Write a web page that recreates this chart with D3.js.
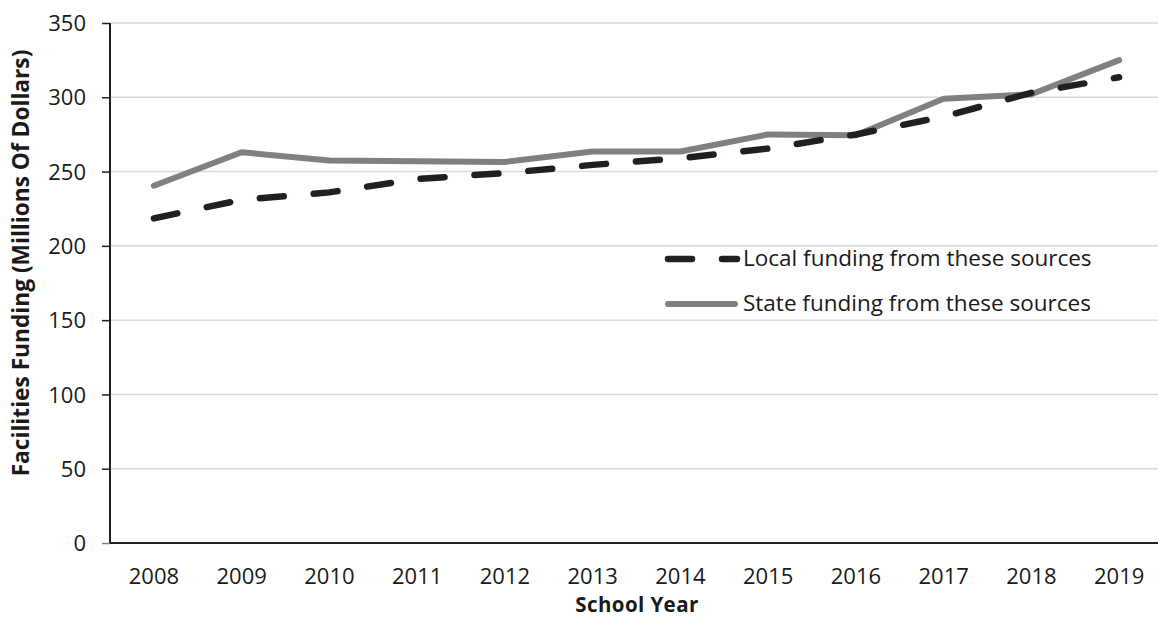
<!DOCTYPE html>
<html>
<head>
<meta charset="utf-8">
<script src="https://cdn.jsdelivr.net/npm/d3@7"></script>
<style>
  html, body { margin: 0; padding: 0; background: #fff; }
  svg { display: block; font-family: "Open Sans", "Noto Sans", sans-serif; }
</style>
</head>
<body>
<svg id="chart" width="1158" height="618"></svg>
<script>
const years = ["2008","2009","2010","2011","2012","2013","2014","2015","2016","2017","2018","2019"];
const localFunding = [218.5, 231, 236, 245, 249, 254.5, 259, 265.5, 275, 287, 303, 313.5];
const stateFunding = [240.5, 263, 257.5, 257, 256.5, 263.5, 263.5, 275, 274.5, 299, 302, 325];
const yTicks = [0, 50, 100, 150, 200, 250, 300, 350];
const seriesNames = ["Local funding from these sources", "State funding from these sources"];

(function () {
const W = 1158, H = 618;
const pLeft = 110, pRight = 1163, pTop = 23, pBottom = 543;
const svg = d3.select("#chart");

const x = d3.scaleBand().domain(years).range([pLeft, pRight]).padding(0);
const xc = d => x(d) + x.bandwidth() / 2;
const y = d3.scaleLinear().domain([0, 350]).range([pBottom, pTop]);

// gridlines
svg.append("g").selectAll("line").data(yTicks.filter(t => t > 0)).join("line")
  .attr("x1", pLeft).attr("x2", W)
  .attr("y1", d => y(d)).attr("y2", d => y(d))
  .attr("stroke", "#d9d9d9").attr("stroke-width", 1.5);

// y axis
const yAxis = d3.axisLeft(y).tickValues(yTicks).tickSize(8).tickPadding(16).tickFormat(d3.format("d"));
const gy = svg.append("g").attr("transform", `translate(${pLeft},0)`).call(yAxis);
gy.select(".domain").attr("stroke", "#231f20").attr("stroke-width", 2).attr("d", `M0,${pTop}V${pBottom}`);
gy.selectAll(".tick line").attr("stroke", "#231f20").attr("stroke-width", 1.5);
gy.selectAll(".tick line").filter(d => d === 0).attr("stroke", "#7f7f7f");
gy.selectAll(".tick text").attr("font-size", 22).attr("fill", "#1a1a1a")
  .attr("font-family", "'Open Sans', sans-serif").attr("dy", "0.35em");

// x axis
const xAxis = d3.axisBottom(x).tickSize(0).tickPadding(26);
const gx = svg.append("g").attr("transform", `translate(0,${pBottom})`).call(xAxis);
gx.select(".domain").attr("stroke", "#231f20").attr("stroke-width", 2).attr("d", `M${pLeft},0H${W}`);
gx.selectAll(".tick text").attr("font-size", 22).attr("fill", "#1a1a1a")
  .attr("font-family", "'Open Sans', sans-serif").attr("dy", 0).attr("y", 41);

// lines
const line = d3.line().x((d, i) => xc(years[i])).y(d => y(d));
svg.append("path").datum(stateFunding).attr("d", line)
  .attr("fill", "none").attr("stroke", "#808080").attr("stroke-width", 6)
  .attr("stroke-linejoin", "round").attr("stroke-linecap", "round");
svg.append("path").datum(localFunding).attr("d", line)
  .attr("fill", "none").attr("stroke", "#231f20").attr("stroke-width", 6.5)
  .attr("stroke-dasharray", "24,30").attr("stroke-linecap", "round");

// legend
const leg = svg.append("g");
leg.append("line").attr("x1", 668).attr("x2", 737).attr("y1", 259).attr("y2", 259)
  .attr("stroke", "#231f20").attr("stroke-width", 6.5).attr("stroke-dasharray", "24,30").attr("stroke-linecap", "round");
leg.append("line").attr("x1", 668).attr("x2", 735).attr("y1", 304).attr("y2", 304)
  .attr("stroke", "#808080").attr("stroke-width", 6).attr("stroke-linecap", "round");
leg.append("text").attr("x", 743).attr("y", 266).attr("font-size", 22.5).attr("fill", "#1a1a1a").text(seriesNames[0]);
leg.append("text").attr("x", 743).attr("y", 311).attr("font-size", 22.5).attr("fill", "#1a1a1a").text(seriesNames[1]);

// axis titles
const yt = svg.append("text").attr("transform", "translate(29,263) rotate(-90)")
  .attr("text-anchor", "middle").attr("font-weight", "bold").attr("font-size", 19).attr("fill", "#1a1a1a")
  .text("Facilities Funding (Millions Of Dollars)");
const len = yt.node().getComputedTextLength();
yt.attr("font-size", 19 * 427 / len);

svg.append("text").attr("x", 637).attr("y", 612).attr("text-anchor", "middle")
  .attr("font-weight", "bold").attr("font-size", 20.5).attr("letter-spacing", 0.4)
  .attr("fill", "#1a1a1a").text("School Year");
})();
</script>
</body>
</html>
